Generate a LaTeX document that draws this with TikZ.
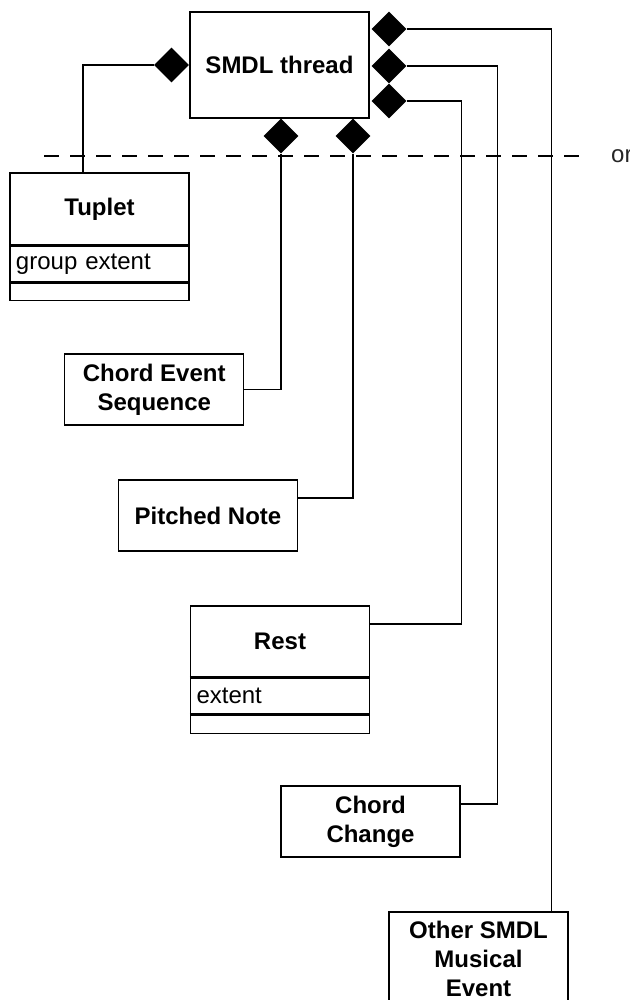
\documentclass[tikz,border=0pt]{standalone}
\usepackage{fontspec}
\setmainfont{Liberation Sans}
\usetikzlibrary{shapes.geometric, positioning}

\tikzset{
  classbox/.style={draw, line width=1.1pt, minimum width=179pt, minimum height=71pt,
    inner sep=0pt, align=center, font=\bfseries\fontsize{24}{29}\selectfont},
  attrbox/.style={draw, line width=1.1pt, minimum width=179pt, minimum height=36pt,
    text width=167pt, inner xsep=6pt, inner ysep=0pt, align=left,
    font=\fontsize{24}{29}\selectfont},
  opsbox/.style={draw, line width=1.1pt, minimum width=179pt, minimum height=17pt, inner sep=0pt},
  agg/.style={diamond, fill=black, minimum width=35pt, minimum height=35pt, inner sep=0pt},
  link/.style={line width=1.1pt},
  sep/.style={line width=2.5pt}
}

\begin{document}
\begin{tikzpicture}[x=1pt, y=-1pt]
        \path[use as bounding box, clip] (0,0) rectangle (629,1000);

        \node[classbox, minimum height=106pt] (thread) at (279.5,65) {SMDL thread};

        \node[classbox, minimum height=72pt] (tuplet) at (99.5,209) {Tuplet};
        \node[attrbox, below=0pt of tuplet] (tupletattr) {group extent};
        \node[opsbox, below=0pt of tupletattr] (tupletops) {};
        \draw[sep] (tuplet.south west) -- (tuplet.south east);
        \draw[sep] (tupletattr.south west) -- (tupletattr.south east);

        \node[classbox] (ces) at (154.25,389.5) {Chord Event\\Sequence};
        \node[classbox] (pitched) at (208,515.5) {Pitched Note};

        \node[classbox] (rest) at (280,641.5) {Rest};
        \node[attrbox, below=0pt of rest] (restattr) {extent};
        \node[opsbox, minimum height=18pt, below=0pt of restattr] (restops) {};
        \draw[sep] (rest.south west) -- (rest.south east);
        \draw[sep] (restattr.south west) -- (restattr.south east);

        \node[classbox] (chord) at (370.5,821.5) {Chord\\Change};
        \node[classbox, minimum height=94pt] (other) at (478.5,959) {Other SMDL\\Musical\\Event};

        \node[agg] (dT) at (171.5,65) {};
        \node[agg] (dCES) at (281,136) {};
        \node[agg] (dPN) at (353,136) {};
        \node[agg] (dA) at (389,29) {};
        \node[agg] (dB) at (389,66) {};
        \node[agg] (dC) at (389,101) {};

        \coordinate (sepstart) at (44,156);
        \node[anchor=west, inner sep=0pt, font=\fontsize{24}{29}\selectfont, text=black!85] (orlabel) at (611,156) {or};
        \draw[link, dash pattern=on 15pt off 11pt] (sepstart) -- ([xshift=-29pt]orlabel.west);

        \draw[link] (dT.west) -| ([xshift=-16.5pt]tuplet.north);
        \draw[link] (dCES.south) |- (ces.east);
        \draw[link] (dPN.south) |- ([yshift=17.5pt]pitched.east);
        \draw[link] (dC.east) -- ++(55,0) |- ([yshift=17.5pt]rest.east);
        \draw[link] (dB.east) -- ++(91,0) |- ([yshift=17.5pt]chord.east);
        \draw[link] (dA.east) -| ([xshift=73pt]other.north);
\end{tikzpicture}
\end{document}
